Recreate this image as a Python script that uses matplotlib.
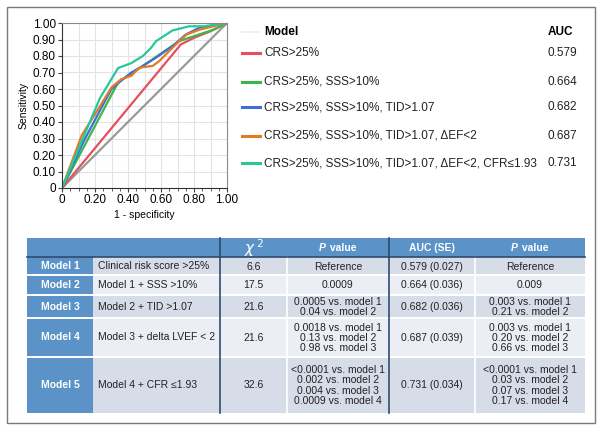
import numpy as np
import matplotlib.pyplot as plt
from matplotlib.patches import Rectangle
from matplotlib.lines import Line2D

plt.rcParams['font.family'] = ['Liberation Sans', 'DejaVu Sans']

# ROC curves (1 - specificity, sensitivity)
fpr_crs = [0, 0.72, 0.80, 0.90, 1.0]
tpr_crs = [0, 0.87, 0.91, 0.95, 1.0]
fpr_sss = [0, 0.34, 0.43, 0.49, 0.71, 0.83, 0.92, 1.0]
tpr_sss = [0, 0.64, 0.70, 0.74, 0.89, 0.93, 0.96, 1.0]
fpr_tid = [0, 0.13, 0.23, 0.30, 0.37, 0.42, 0.49, 0.57, 0.67, 0.75, 0.83, 1.0]
tpr_tid = [0, 0.28, 0.47, 0.60, 0.66, 0.70, 0.74, 0.79, 0.86, 0.93, 0.97, 1.0]
fpr_ef = [0, 0.12, 0.23, 0.30, 0.36, 0.42, 0.47, 0.55, 0.59, 0.71, 0.755, 0.835, 1.0]
tpr_ef = [0, 0.32, 0.495, 0.61, 0.66, 0.68, 0.73, 0.74, 0.77, 0.89, 0.93, 0.96, 1.0]
fpr_cfr = [0, 0.23, 0.34, 0.42, 0.49, 0.54, 0.57, 0.67, 0.77, 0.855, 1.0]
tpr_cfr = [0, 0.545, 0.727, 0.757, 0.80, 0.85, 0.89, 0.955, 0.98, 0.98, 1.0]

model_labels = ['CRS>25%', 'CRS>25%, SSS>10%', 'CRS>25%, SSS>10%, TID>1.07',
                'CRS>25%, SSS>10%, TID>1.07, \u0394EF<2',
                'CRS>25%, SSS>10%, TID>1.07, \u0394EF<2, CFR\u22641.93']
auc_values = ['0.579', '0.664', '0.682', '0.687', '0.731']
curve_colors = ['#e5505c', '#3db54b', '#3f6ed8', '#e27b25', '#27c89a']

# table contents
row_names = ['Model 1', 'Model 2', 'Model 3', 'Model 4', 'Model 5']
row_desc = ['Clinical risk score >25%', 'Model 1 + SSS >10%', 'Model 2 + TID >1.07',
            'Model 3 + delta LVEF < 2', 'Model 4 + CFR \u22641.93']
chi2 = ['6.6', '17.5', '21.6', '21.6', '32.6']
p_chi = ['Reference', '0.0009', '0.0005 vs. model 1\n0.04 vs. model 2',
         '0.0018 vs. model 1\n0.13 vs. model 2\n0.98 vs. model 3',
         '<0.0001 vs. model 1\n0.002 vs. model 2\n0.004 vs. model 3\n0.0009 vs. model 4']
auc_se = ['0.579 (0.027)', '0.664 (0.036)', '0.682 (0.036)', '0.687 (0.039)', '0.731 (0.034)']
p_auc = ['Reference', '0.009', '0.003 vs. model 1\n0.21 vs. model 2',
         '0.003 vs. model 1\n0.20 vs. model 2\n0.66 vs. model 3',
         '<0.0001 vs. model 1\n0.03 vs. model 2\n0.07 vs. model 3\n0.17 vs. model 4']

x_ticks = [0, 0.2, 0.4, 0.6, 0.8, 1.0]
x_ticklabels = ['0', '0.20', '0.40', '0.60', '0.80', '1.00']
y_ticks = [0, 0.1, 0.2, 0.3, 0.4, 0.5, 0.6, 0.7, 0.8, 0.9, 1.0]
y_ticklabels = ['0', '0.10', '0.20', '0.30', '0.40', '0.50', '0.60', '0.70', '0.80', '0.90', '1.00']

W, H = 604, 434
fig = plt.figure(figsize=(W / 100, H / 100), dpi=100)

# overlay axes in pixel coordinates for frame, legend and table
bg = fig.add_axes([0, 0, 1, 1])
bg.set_xlim(0, W)
bg.set_ylim(H, 0)
bg.axis('off')
bg.add_patch(Rectangle((7, 7), 588, 416, fill=False, edgecolor='#7a7a7a', lw=1))

# ROC plot
ax = fig.add_axes([62 / W, 1 - 188 / H, 165 / W, 165 / H])
ax.plot([0, 1], [0, 1], color='#9a9a9a', lw=1.6)
curves = [(fpr_crs, tpr_crs), (fpr_sss, tpr_sss), (fpr_tid, tpr_tid),
          (fpr_ef, tpr_ef), (fpr_cfr, tpr_cfr)]
for (fx, ty), c in zip(curves, curve_colors):
    ax.plot(fx, ty, color=c, lw=1.6)
ax.set_xlim(0, 1)
ax.set_ylim(0, 1)
ax.set_xticks(x_ticks)
ax.set_xticklabels(x_ticklabels)
ax.set_xticks(np.arange(0.05, 1.0, 0.05), minor=True)
ax.set_yticks(y_ticks)
ax.set_yticklabels(y_ticklabels)
for x in np.arange(0.1, 1.0, 0.1):
    ax.axvline(x, color='#e3e3e3', lw=0.8, zorder=0)
for y in np.arange(0.1, 1.0, 0.1):
    ax.axhline(y, color='#e3e3e3', lw=0.8, zorder=0)
ax.tick_params(which='both', direction='out', length=3, color='#444444', labelsize=8.5, pad=1.5)
ax.tick_params(which='minor', length=2.5)
for s in ax.spines.values():
    s.set_color('#8a8a8a')
    s.set_linewidth(0.8)
ax.spines['left'].set_color('#333333')
ax.spines['bottom'].set_color('#333333')
ax.set_xlabel('1 - specificity', fontsize=7.5, labelpad=3)
ax.set_ylabel('Sensitivity', fontsize=7.5, labelpad=3)

# legend
bg.add_line(Line2D([242, 260], [32, 32], color='#eeeeee', lw=1.2))
bg.text(264, 32, 'Model', fontsize=8.5, fontweight='bold', va='center')
bg.text(548, 32, 'AUC', fontsize=8.5, fontweight='bold', va='center')
row_y = [53, 82, 107, 136, 163]
for y, lab, auc, c in zip(row_y, model_labels, auc_values, curve_colors):
    bg.add_line(Line2D([242, 260], [y, y], color=c, lw=2.2))
    bg.text(264, y, lab, fontsize=8.5, va='center', color='#222222')
    bg.text(548, y, auc, fontsize=8.5, va='center', color='#222222')

# table
blue = '#5b92c8'
col_x = [27, 93, 220, 287, 389, 475, 585]
row_edges = [238, 257, 275, 295, 318, 357, 413]
row_fill = ['#d7dce9', '#eceef5', '#d7dce9', '#eceef5', '#d7dce9']
bg.add_patch(Rectangle((col_x[0], row_edges[0]), col_x[-1] - col_x[0],
                       row_edges[1] - row_edges[0], color=blue, lw=0))
for i in range(5):
    y0, y1 = row_edges[i + 1], row_edges[i + 2]
    bg.add_patch(Rectangle((col_x[0], y0), col_x[1] - col_x[0], y1 - y0, color=blue, lw=0))
    bg.add_patch(Rectangle((col_x[1], y0), col_x[-1] - col_x[1], y1 - y0, color=row_fill[i], lw=0))
    ym = (y0 + y1) / 2
    bg.text((col_x[0] + col_x[1]) / 2, ym, row_names[i], fontsize=7.5, fontweight='bold',
            color='white', ha='center', va='center')
    bg.text(col_x[1] + 5, ym, row_desc[i], fontsize=7.5, color='#222222', ha='left', va='center')
    cells = [chi2[i], p_chi[i], auc_se[i], p_auc[i]]
    for j, t in enumerate(cells):
        xm = (col_x[j + 2] + col_x[j + 3]) / 2
        bg.text(xm, ym + 0.5, t, fontsize=7.5, color='#222222', ha='center', va='center',
                linespacing=1.05)
# white row separators
for y in row_edges[2:-1]:
    bg.add_line(Line2D([col_x[0], col_x[-1]], [y, y], color='white', lw=1.4))
for x in [287, 475]:
    bg.add_line(Line2D([x, x], [row_edges[1], row_edges[-1]], color='white', lw=1.2))
# dark dividers
bg.add_line(Line2D([col_x[0], col_x[-1]], [257, 257], color='#2f4c6e', lw=1.2))
for x in [220, 389]:
    bg.add_line(Line2D([x, x], [row_edges[0], row_edges[-1]], color='#2f4c6e', lw=1.2))

# header texts
hy = 248
bg.text((220 + 287) / 2, hy, r'$\chi^{\,2}$', fontsize=11, color='white', ha='center', va='center')
for xm in [(287 + 389) / 2, (475 + 585) / 2]:
    bg.text(xm - 12, hy, 'P', fontsize=7.5, fontweight='bold', style='italic',
            color='white', ha='right', va='center')
    bg.text(xm - 11, hy, ' value', fontsize=7.5, fontweight='bold', color='white',
            ha='left', va='center')
bg.text((389 + 475) / 2, hy, 'AUC (SE)', fontsize=7.5, fontweight='bold', color='white',
        ha='center', va='center')

fig.savefig('out.png', dpi=100)
